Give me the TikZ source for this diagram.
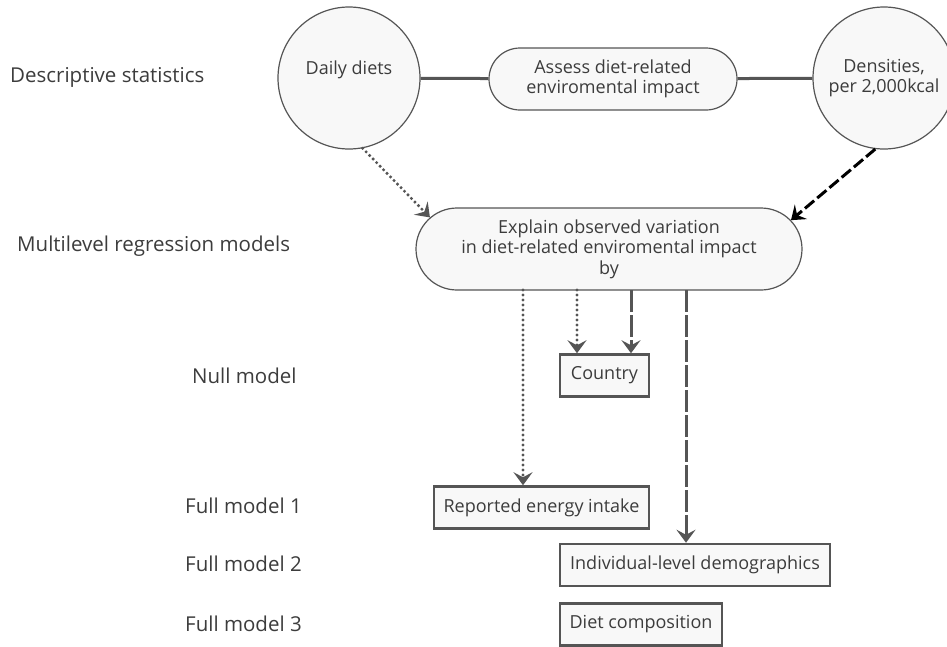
\documentclass[tikz,border=0pt]{standalone}
\usepackage{fontspec}
\setmainfont{Open Sans}
\usepackage{xcolor}
\usetikzlibrary{arrows.meta,shapes.misc}
\definecolor{flowgray}{RGB}{85,85,85}
\definecolor{flowtext}{RGB}{60,60,60}
\definecolor{flowbg}{RGB}{248,248,248}

\begin{document}
\begin{tikzpicture}[
  x=1pt, y=-1pt,
  every node/.style={text=flowtext},
  source/.style={circle, draw=flowgray, line width=1.2pt, fill=flowbg,
                 minimum size=142pt, inner sep=0pt, align=center,
                 font=\fontsize{18}{20.5}\selectfont},
  pill/.style={rounded rectangle, draw=flowgray, line width=1.2pt, fill=flowbg,
               align=center, inner sep=0pt, font=\fontsize{18}{20.5}\selectfont},
  factor/.style={rectangle, draw=flowgray, line width=2.5pt, fill=flowbg,
                 minimum height=42pt, inner sep=0pt,
                 font=\fontsize{18}{20.5}\selectfont},
  level/.style={anchor=base west, inner sep=0pt, font=\fontsize{20.5}{23}\selectfont},
  link/.style={line width=3pt, flowgray},
  tip/.style={-{Stealth[length=13pt, width=19pt, inset=5pt]}},
  dotarr/.style={tip, line width=3.4pt, flowgray, line cap=round,
                 dash pattern=on 0pt off 5pt},
  longarr/.style={tip, line width=3pt, flowgray, dash pattern=on 22pt off 3pt},
  dasharr/.style={tip, line width=3pt, black, dash pattern=on 12pt off 4pt}
]
\useasboundingbox (0,0) rectangle (947,646);

% level labels
\node[level] (lvdesc) at (10,82) {Descriptive statistics};
\node[level] (lvmulti) at (17,251) {Multilevel regression models};
\node[level] (lvnull) at (192,383) {Null model};
\node[level] (lvfull1) at (185,513) {Full model 1};
\node[level] (lvfull2) at (185,571) {Full model 2};
\node[level] (lvfull3) at (185,631) {Full model 3};

% descriptive part
\node[source] (diets) at (349,78) {Daily diets\\ \mbox{}};
\node[pill, minimum width=248pt, minimum height=62pt] (assess) at (613,79)
  {Assess diet-related\\enviromental impact};
\node[source] (dens) at (884,78) {Densities,\\per 2,000kcal};
\draw[link] (diets) -- (assess);
\draw[link] (assess) -- (dens);

% regression models
\node[pill, minimum width=386pt, minimum height=82pt] (explain) at (609,249)
  {Explain observed variation\\in diet-related enviromental impact\\by};
\node[factor, minimum width=89pt] (country) at (604.5,375.5) {Country};
\node[factor, minimum width=215pt] (energy) at (541.5,507.5) {Reported energy intake};
\node[factor, minimum width=270pt] (indiv) at (695,565) {Individual-level demographics};
\node[factor, minimum width=162pt] (comp) at (641,624.5) {Diet composition};

\draw[dotarr] (diets.-79) -- (explain.170);
\draw[dasharr] (dens.-97) -- (explain.9);

\coordinate (out1) at (523,290);
\coordinate (out2) at (577,290);
\coordinate (out3) at (631,290);
\coordinate (out4) at (686,290);
\draw[dotarr] (out1) -- (out1 |- energy.north);
\draw[dotarr] (out2) -- (out2 |- country.north);
\draw[longarr] (out3) -- (out3 |- country.north);
\draw[longarr] (out4) -- (out4 |- indiv.north);
\end{tikzpicture}
\end{document}
